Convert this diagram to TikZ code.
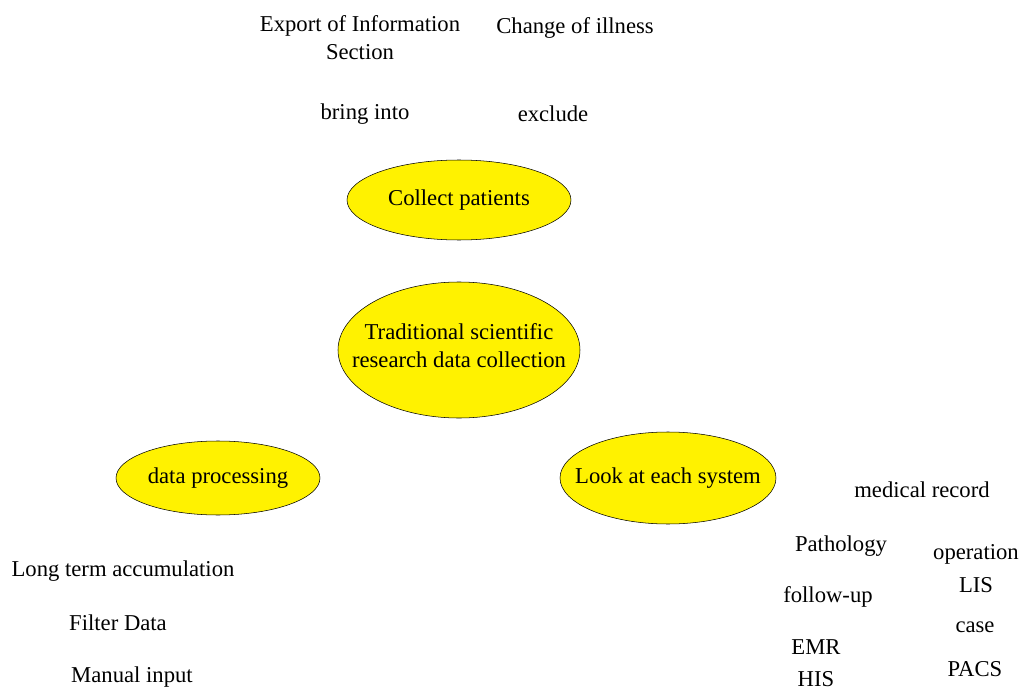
\documentclass[tikz,border=0pt]{standalone}
\usepackage{fontspec}
\setmainfont{Liberation Serif}
\tikzset{
 blob/.style={draw=black, thin, fill=yellow},
 word/.style={inner sep=0pt, align=center}
}
\begin{document}
\begin{tikzpicture}[x=0.75pt, y=-0.75pt, font=\fontsize{17}{21}\selectfont, line join=round]
 \useasboundingbox (0,0) rectangle (1022,692);
 % yellow ellipses, drawn first so the texts sit on top
 \foreach \x/\y/\rx/\ry in {459/200/112/40, 459/350/121/68, 218/478/102/37, 668/478/108/46}
 \path[blob] (\x,\y) ellipse [x radius=\rx, y radius=\ry];
 \node[word] (collect) at (459,200) {Collect patients};
 \node[word] (trad) at (459,346) {Traditional scientific\\research data collection};
 \node[word] (proc) at (218,478) {data processing};
 \node[word] (look) at (668,478) {Look at each system};
 \node[word] (export) at (360,38) {Export of Information\\Section};
 \foreach \x/\y/\t [count=\i] in {575/28/Change of illness, 365/114/bring into, 553/114/exclude,
   123/571/Long term accumulation, 118/623/Filter Data, 132/677/Manual input,
   922/490/medical record, 841/546/Pathology, 976/554/operation, 976/585/LIS,
   828/597/follow-up, 975/627/case, 816/647/EMR, 975/669/PACS}
 \node[word] (lbl\i) at (\x,\y) {\t};
 \node[word, anchor=base] (his) at (816,686) {HIS};
\end{tikzpicture}
\end{document}
